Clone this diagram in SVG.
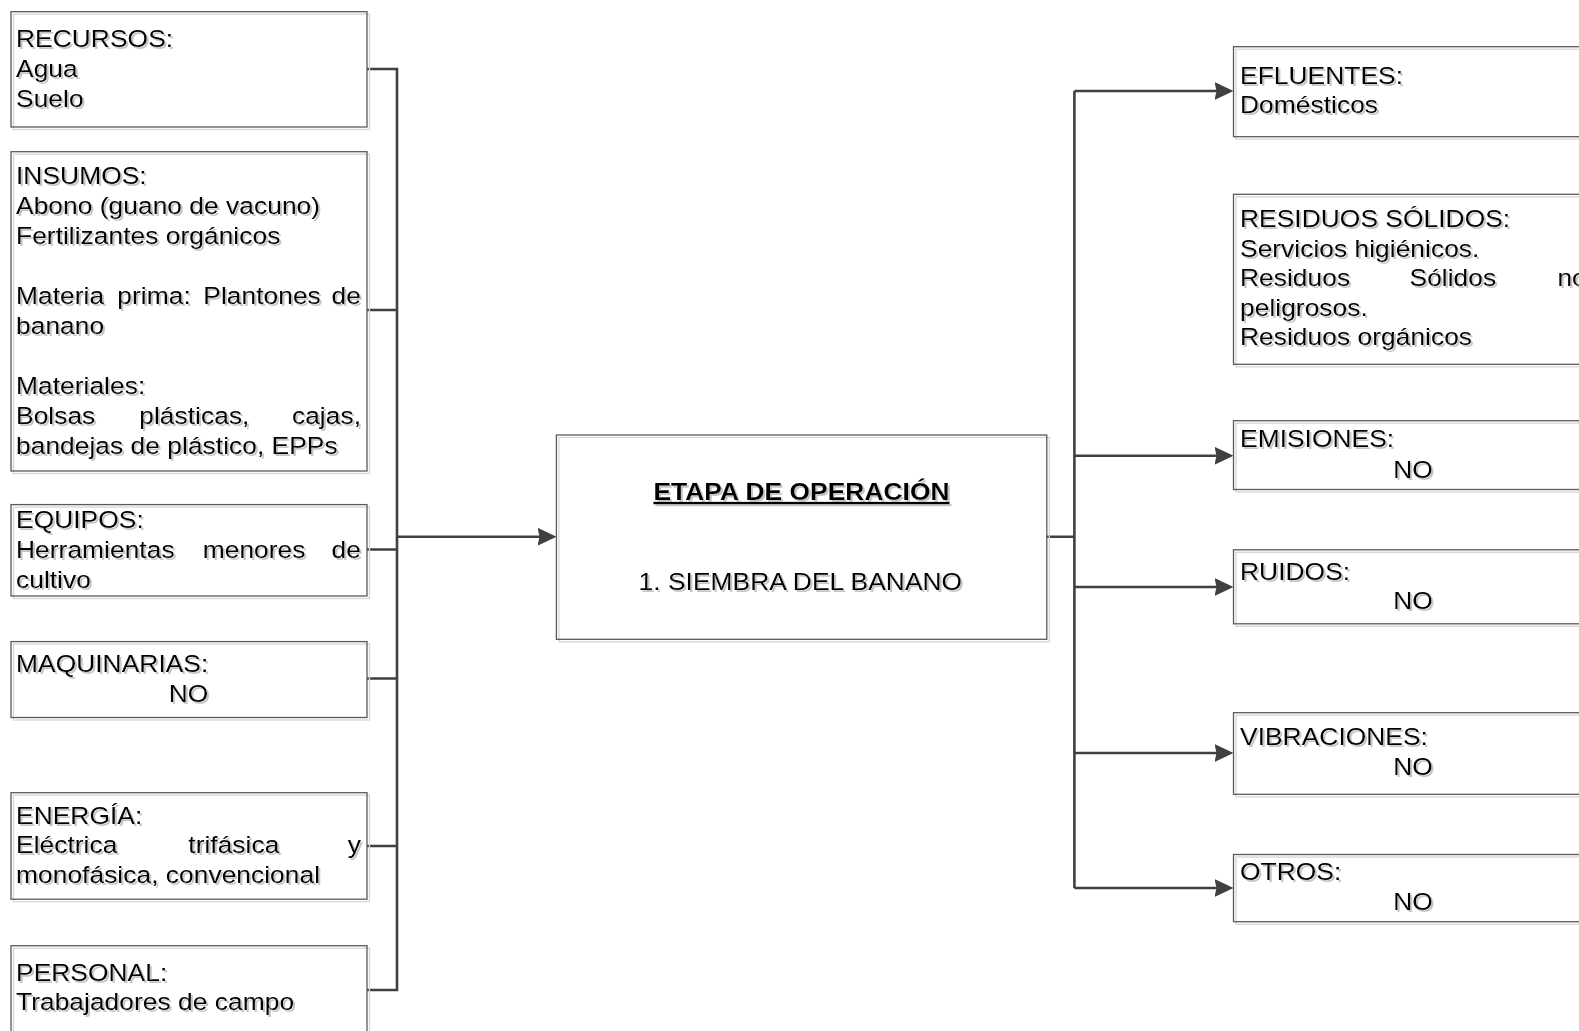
<svg xmlns="http://www.w3.org/2000/svg" width="1579" height="1031" viewBox="0 0 1579 1031">
<style>
.bg{fill:#fff}
.box{fill:none;stroke:#5a5a5a;stroke-width:1.3}
.sh{fill:none;stroke:#d6d6d6;stroke-width:1.3}
.t{font-family:"Liberation Sans",Arial,sans-serif;font-size:23.5px;fill:#000;filter:url(#ts)}
.b{font-weight:bold;text-decoration:underline}
.m{text-anchor:middle}
.e{text-anchor:end}
.c{fill:none;stroke:#404040;stroke-width:2.6}
.a{marker-end:url(#arr)}
</style>
<defs>
<filter id="ts" x="-5%" y="-20%" width="115%" height="150%">
<feOffset in="SourceAlpha" dx="2" dy="2.2" result="off"/>
<feFlood flood-color="#c6c6c6"/>
<feComposite in2="off" operator="in" result="s"/>
<feMerge><feMergeNode in="s"/><feMergeNode in="SourceGraphic"/></feMerge>
</filter>
<marker id="arr" viewBox="0 0 19 18" refX="5.5" refY="9" markerWidth="19" markerHeight="18" markerUnits="userSpaceOnUse" orient="auto">
<path d="M0,0 L19,9 L0,18 L2,9 z" fill="#404040"/>
</marker>
</defs>
<rect class="bg" x="0" y="0" width="1579" height="1031"/>

<g id="connectors">
<path class="c" d="M367,69 H397 V990 H367"/>
<path class="c" d="M367,310 H397 M367,549.5 H397 M367,678.5 H397 M367,846 H397"/>
<path class="c a" d="M397,536.7 H543"/>
<path class="c" d="M1046.8,536.7 H1074.4 M1074.4,91 V888"/>
<path class="c a" d="M1074.4,91 H1220"/>
<path class="c a" d="M1074.4,455.8 H1220"/>
<path class="c a" d="M1074.4,587 H1220"/>
<path class="c a" d="M1074.4,753 H1220"/>
<path class="c a" d="M1074.4,888 H1220"/>
</g>

<g id="recursos">
<rect class="sh" x="13.5" y="14.2" width="356" height="115.3"/>
<rect class="box" x="11" y="11.7" width="356" height="115.3"/>
<text class="t" transform="matrix(1.125 0 0 1 16 47)">RECURSOS:</text>
<text class="t" transform="matrix(1.125 0 0 1 16 77)">Agua</text>
<text class="t" transform="matrix(1.125 0 0 1 16 107)">Suelo</text>
</g>

<g id="insumos">
<rect class="sh" x="13.5" y="154.2" width="356" height="319.3"/>
<rect class="box" x="11" y="151.7" width="356" height="319.3"/>
<text class="t" transform="matrix(1.125 0 0 1 16 183.5)">INSUMOS:</text>
<text class="t" transform="matrix(1.125 0 0 1 16 213.5)">Abono (guano de vacuno)</text>
<text class="t" transform="matrix(1.125 0 0 1 16 243.5)">Fertilizantes orgánicos</text>
<text class="t" transform="matrix(1.125 0 0 1 16 303.5)">Materia</text>
<text class="t" transform="matrix(1.125 0 0 1 117.3 303.5)">prima:</text>
<text class="t" transform="matrix(1.125 0 0 1 203.3 303.5)">Plantones</text>
<text class="t e" transform="matrix(1.125 0 0 1 361 303.5)">de</text>
<text class="t" transform="matrix(1.125 0 0 1 16 333.5)">banano</text>
<text class="t" transform="matrix(1.125 0 0 1 16 393.5)">Materiales:</text>
<text class="t" transform="matrix(1.125 0 0 1 16 423.5)">Bolsas</text>
<text class="t" transform="matrix(1.125 0 0 1 139.3 423.5)">plásticas,</text>
<text class="t e" transform="matrix(1.125 0 0 1 361 423.5)">cajas,</text>
<text class="t" transform="matrix(1.125 0 0 1 16 453.5)">bandejas de plástico, EPPs</text>
</g>

<g id="equipos">
<rect class="sh" x="13.5" y="507.1" width="356" height="91.4"/>
<rect class="box" x="11" y="504.6" width="356" height="91.4"/>
<text class="t" transform="matrix(1.125 0 0 1 16 528)">EQUIPOS:</text>
<text class="t" transform="matrix(1.125 0 0 1 16 558)">Herramientas</text>
<text class="t" transform="matrix(1.125 0 0 1 202.7 558)">menores</text>
<text class="t e" transform="matrix(1.125 0 0 1 361 558)">de</text>
<text class="t" transform="matrix(1.125 0 0 1 16 588)">cultivo</text>
</g>

<g id="maquinarias">
<rect class="sh" x="13.5" y="644.1" width="356" height="75.9"/>
<rect class="box" x="11" y="641.6" width="356" height="75.9"/>
<text class="t" transform="matrix(1.125 0 0 1 16 671.5)">MAQUINARIAS:</text>
<text class="t m" transform="matrix(1.125 0 0 1 188.5 702)">NO</text>
</g>

<g id="energia">
<rect class="sh" x="13.5" y="795.2" width="356" height="106.5"/>
<rect class="box" x="11" y="792.7" width="356" height="106.5"/>
<text class="t" transform="matrix(1.125 0 0 1 16 823.6)">ENERGÍA:</text>
<text class="t" transform="matrix(1.125 0 0 1 16 853.2)">Eléctrica</text>
<text class="t" transform="matrix(1.125 0 0 1 188.3 853.2)">trifásica</text>
<text class="t e" transform="matrix(1.125 0 0 1 361 853.2)">y</text>
<text class="t" transform="matrix(1.125 0 0 1 16 883.4)">monofásica, convencional</text>
</g>

<g id="personal">
<rect class="sh" x="13.5" y="948.2" width="356" height="110"/>
<rect class="box" x="11" y="945.7" width="356" height="110"/>
<text class="t" transform="matrix(1.125 0 0 1 16 980.5)">PERSONAL:</text>
<text class="t" transform="matrix(1.125 0 0 1 16 1010)">Trabajadores de campo</text>
</g>

<g id="etapa">
<rect class="sh" x="558.9" y="437.5" width="490.4" height="204.3"/>
<rect class="box" x="556.4" y="435" width="490.4" height="204.3"/>
<text class="t b m" transform="matrix(1.125 0 0 1 801.5 500)">ETAPA DE OPERACIÓN</text>
<text class="t m" transform="matrix(1.125 0 0 1 800.4 590)">1. SIEMBRA DEL BANANO</text>
</g>

<g id="efluentes">
<rect class="sh" x="1236" y="49.2" width="400" height="90"/>
<rect class="box" x="1233.5" y="46.7" width="400" height="90"/>
<text class="t" transform="matrix(1.125 0 0 1 1240 84)">EFLUENTES:</text>
<text class="t" transform="matrix(1.125 0 0 1 1240 113.3)">Domésticos</text>
</g>

<g id="residuos">
<rect class="sh" x="1236" y="196.8" width="400" height="170"/>
<rect class="box" x="1233.5" y="194.3" width="400" height="170"/>
<text class="t" transform="matrix(1.125 0 0 1 1240 226.7)">RESIDUOS SÓLIDOS:</text>
<text class="t" transform="matrix(1.125 0 0 1 1240 256.7)">Servicios higiénicos.</text>
<text class="t" transform="matrix(1.125 0 0 1 1240 286)">Residuos</text>
<text class="t" transform="matrix(1.125 0 0 1 1409.5 286)">Sólidos</text>
<text class="t" transform="matrix(1.125 0 0 1 1557.4 286)">no</text>
<text class="t" transform="matrix(1.125 0 0 1 1240 315.5)">peligrosos.</text>
<text class="t" transform="matrix(1.125 0 0 1 1240 345)">Residuos orgánicos</text>
</g>

<g id="emisiones">
<rect class="sh" x="1236" y="423.2" width="400" height="68.8"/>
<rect class="box" x="1233.5" y="420.7" width="400" height="68.8"/>
<text class="t" transform="matrix(1.125 0 0 1 1240 447.2)">EMISIONES:</text>
<text class="t m" transform="matrix(1.125 0 0 1 1413 477.5)">NO</text>
</g>

<g id="ruidos">
<rect class="sh" x="1236" y="552.3" width="400" height="74"/>
<rect class="box" x="1233.5" y="549.8" width="400" height="74"/>
<text class="t" transform="matrix(1.125 0 0 1 1240 579.8)">RUIDOS:</text>
<text class="t m" transform="matrix(1.125 0 0 1 1413 609.4)">NO</text>
</g>

<g id="vibraciones">
<rect class="sh" x="1236" y="715.2" width="400" height="81.6"/>
<rect class="box" x="1233.5" y="712.7" width="400" height="81.6"/>
<text class="t" transform="matrix(1.125 0 0 1 1240 745.4)">VIBRACIONES:</text>
<text class="t m" transform="matrix(1.125 0 0 1 1413 775.3)">NO</text>
</g>

<g id="otros">
<rect class="sh" x="1236" y="857" width="400" height="67.2"/>
<rect class="box" x="1233.5" y="854.5" width="400" height="67.2"/>
<text class="t" transform="matrix(1.125 0 0 1 1240 880.4)">OTROS:</text>
<text class="t m" transform="matrix(1.125 0 0 1 1413 910.3)">NO</text>
</g>
</svg>
